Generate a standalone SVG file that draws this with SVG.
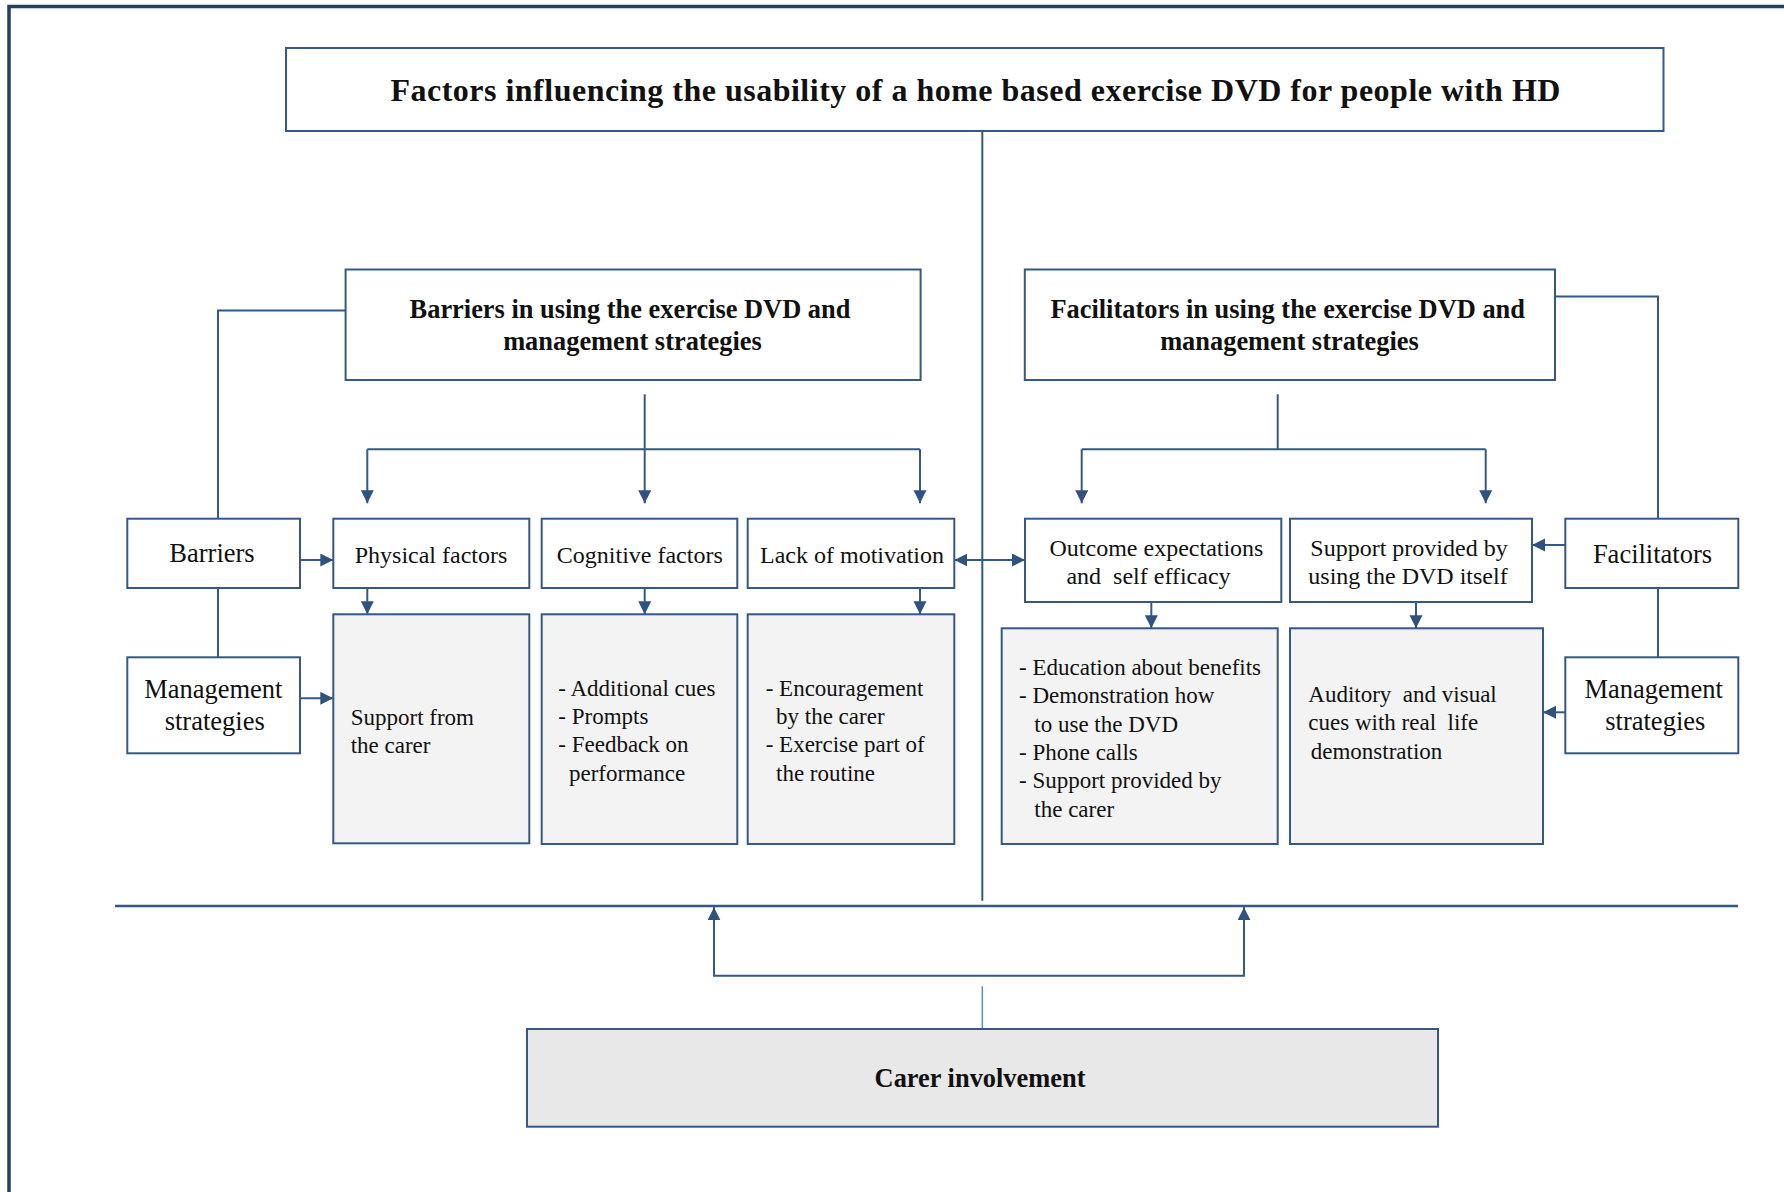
<svg xmlns="http://www.w3.org/2000/svg" width="1784" height="1192" viewBox="0 0 1784 1192">
<style>
  text { font-family: "Liberation Serif", "Times New Roman", serif; fill: #111; }
  .title { font-size: 32px; font-weight: bold; }
  .head { font-size: 26.4px; font-weight: bold; text-anchor: middle; }
  .side { font-size: 26.5px; text-anchor: middle; }
  .lab { font-size: 24px; text-anchor: middle; }
  .body { font-size: 23px; }
  .box { fill: #ffffff; stroke: #34588a; stroke-width: 2; }
  .cbox { fill: #f3f3f3; stroke: #34588a; stroke-width: 2; }
  .conn { fill: none; stroke: #34588a; stroke-width: 2; }
  .arr { marker-end: url(#ah); }
</style>
<defs>
  <marker id="ah" markerUnits="userSpaceOnUse" markerWidth="14" markerHeight="14" refX="13" refY="6.5" orient="auto-start-reverse">
    <path d="M0,0 L13,6.5 L0,13 z" fill="#2f5282"/>
  </marker>
</defs>
<rect x="0" y="0" width="1784" height="1192" fill="#ffffff"/>
<!-- frame -->
<path d="M9,1192 L9,6.5 L1784,6.5" fill="none" stroke="#243f60" stroke-width="3.5"/>

<g id="connectors">
  <!-- center vertical -->
  <line class="conn" x1="982.3" y1="132" x2="982.3" y2="900.7"/>
  <!-- barriers side -->
  <polyline class="conn" points="345.6,310.6 218,310.6 218,518.7"/>
  <line class="conn" x1="218" y1="588" x2="218" y2="657.3"/>
  <line class="conn arr" x1="300" y1="560" x2="333.3" y2="560"/>
  <line class="conn arr" x1="300" y1="698.3" x2="333.3" y2="698.3"/>
  <line class="conn arr" x1="644.7" y1="394.3" x2="644.7" y2="503.3"/>
  <line class="conn" x1="367.3" y1="449.3" x2="920" y2="449.3"/>
  <line class="conn arr" x1="367.3" y1="449.3" x2="367.3" y2="503.3"/>
  <line class="conn arr" x1="920" y1="449.3" x2="920" y2="503.3"/>
  <line class="conn arr" x1="367.3" y1="588" x2="367.3" y2="614.3"/>
  <line class="conn arr" x1="644.7" y1="588" x2="644.7" y2="614.3"/>
  <line class="conn arr" x1="920" y1="588" x2="920" y2="614.3"/>
  <!-- double arrow -->
  <line class="conn" x1="954.3" y1="560" x2="1025" y2="560" marker-start="url(#ah)" marker-end="url(#ah)"/>
  <!-- facilitators side -->
  <line class="conn" x1="1277.7" y1="394.3" x2="1277.7" y2="449.3"/>
  <line class="conn" x1="1081.7" y1="449.3" x2="1485.7" y2="449.3"/>
  <line class="conn arr" x1="1081.7" y1="449.3" x2="1081.7" y2="503.3"/>
  <line class="conn arr" x1="1485.7" y1="449.3" x2="1485.7" y2="503.3"/>
  <line class="conn arr" x1="1151.3" y1="602" x2="1151.3" y2="628.3"/>
  <line class="conn arr" x1="1416" y1="602" x2="1416" y2="628.3"/>
  <polyline class="conn" points="1555,296.5 1658,296.5 1658,518.7"/>
  <line class="conn" x1="1658" y1="588" x2="1658" y2="657.3"/>
  <line class="conn arr" x1="1565.3" y1="545" x2="1532" y2="545"/>
  <line class="conn arr" x1="1565.3" y1="712.3" x2="1543" y2="712.3"/>
  <!-- bottom -->
  <line x1="115" y1="906" x2="1738" y2="906" stroke="#34588a" stroke-width="2.5"/>
  <polyline class="conn" points="714,907.3 714,975.7 1244,975.7 1244,907.3"/>
  <line class="conn arr" x1="714" y1="960" x2="714" y2="907.3"/>
  <line class="conn arr" x1="1244" y1="960" x2="1244" y2="907.3"/>
  <line x1="982.3" y1="986.3" x2="982.3" y2="1029" stroke="#5b8fd0" stroke-width="1.5"/>
</g>

<g id="title">
  <rect class="box" x="286" y="48" width="1377.5" height="83"/>
  <text class="title" x="390.4" y="101" textLength="1170" lengthAdjust="spacing">Factors influencing the usability of a home based exercise DVD for people with HD</text>
</g>

<g id="barriers-header">
  <rect class="box" x="345.6" y="269.5" width="575" height="110.5"/>
  <text class="head" x="630" y="318.3">Barriers in using the exercise DVD and</text>
  <text class="head" x="632.5" y="349.5">management strategies</text>
</g>

<g id="facilitators-header">
  <rect class="box" x="1024.8" y="269.5" width="530.2" height="110.5"/>
  <text class="head" x="1287.7" y="318.3">Facilitators in using the exercise DVD and</text>
  <text class="head" x="1289.5" y="349.5">management strategies</text>
</g>

<g id="barriers">
  <rect class="box" x="127.3" y="518.7" width="172.7" height="69.3"/>
  <text class="side" x="212" y="561.7">Barriers</text>
</g>

<g id="management-left">
  <rect class="box" x="127.3" y="657.3" width="172.7" height="96"/>
  <text class="side" x="213.3" y="698.3">Management</text>
  <text class="side" x="214.7" y="730">strategies</text>
</g>

<g id="physical-factors">
  <rect class="box" x="333.3" y="518.7" width="196" height="69.3"/>
  <text class="lab" x="431" y="563.3">Physical factors</text>
</g>

<g id="cognitive-factors">
  <rect class="box" x="541.7" y="518.7" width="195.6" height="69.3"/>
  <text class="lab" x="639.8" y="563.3">Cognitive factors</text>
</g>

<g id="lack-of-motivation">
  <rect class="box" x="747.7" y="518.7" width="206.6" height="69.3"/>
  <text class="lab" x="852" y="563.3">Lack of motivation</text>
</g>

<g id="support-from-carer">
  <rect class="cbox" x="333.3" y="614.3" width="196" height="229"/>
  <text class="body" x="350.7" y="725">Support from</text>
  <text class="body" x="350.7" y="752.7">the carer</text>
</g>

<g id="cognitive-strategies">
  <rect class="cbox" x="541.7" y="614.3" width="195.6" height="229.7"/>
  <text class="body" x="558.3" y="696">- Additional cues</text>
  <text class="body" x="558.3" y="724">- Prompts</text>
  <text class="body" x="558.3" y="752.3">- Feedback on</text>
  <text class="body" x="569" y="781">performance</text>
</g>

<g id="motivation-strategies">
  <rect class="cbox" x="747.7" y="614.3" width="206.6" height="229.7"/>
  <text class="body" x="765.7" y="696">- Encouragement</text>
  <text class="body" x="776" y="724">by the carer</text>
  <text class="body" x="765.7" y="752.3">- Exercise part of</text>
  <text class="body" x="776" y="781">the routine</text>
</g>

<g id="outcome-expectations">
  <rect class="box" x="1025" y="518.7" width="256.3" height="83.3"/>
  <text class="lab" x="1156.5" y="555.5">Outcome expectations</text>
  <text class="lab" x="1148.5" y="584" xml:space="preserve">and  self efficacy</text>
</g>

<g id="support-dvd">
  <rect class="box" x="1290" y="518.7" width="242" height="83.3"/>
  <text class="lab" x="1409" y="555.5">Support provided by</text>
  <text class="lab" x="1408" y="584">using the DVD itself</text>
</g>

<g id="facilitators">
  <rect class="box" x="1565.3" y="518.7" width="173" height="69.3"/>
  <text class="side" x="1652.5" y="562.7">Facilitators</text>
</g>

<g id="management-right">
  <rect class="box" x="1565.3" y="657.3" width="173" height="96"/>
  <text class="side" x="1653.7" y="698.3">Management</text>
  <text class="side" x="1655.3" y="730">strategies</text>
</g>

<g id="outcome-strategies">
  <rect class="cbox" x="1001.7" y="628.3" width="276" height="215.7"/>
  <text class="body" x="1019" y="675">- Education about benefits</text>
  <text class="body" x="1019" y="702.7">- Demonstration how</text>
  <text class="body" x="1034.3" y="731.7">to use the DVD</text>
  <text class="body" x="1019" y="760">- Phone calls</text>
  <text class="body" x="1019" y="788.3">- Support provided by</text>
  <text class="body" x="1034.3" y="816.7">the carer</text>
</g>

<g id="dvd-strategies">
  <rect class="cbox" x="1290" y="628.3" width="253" height="215.7"/>
  <text class="body" x="1308.3" y="701.7" xml:space="preserve">Auditory  and visual</text>
  <text class="body" x="1308.3" y="730" xml:space="preserve">cues with real  life</text>
  <text class="body" x="1310.7" y="759">demonstration</text>
</g>

<g id="carer-involvement">
  <rect x="527" y="1029" width="911" height="97.7" fill="#e8e8e8" stroke="#34588a" stroke-width="2"/>
  <text x="980" y="1086.7" font-size="26.4" font-weight="bold" text-anchor="middle">Carer involvement</text>
</g>
</svg>
